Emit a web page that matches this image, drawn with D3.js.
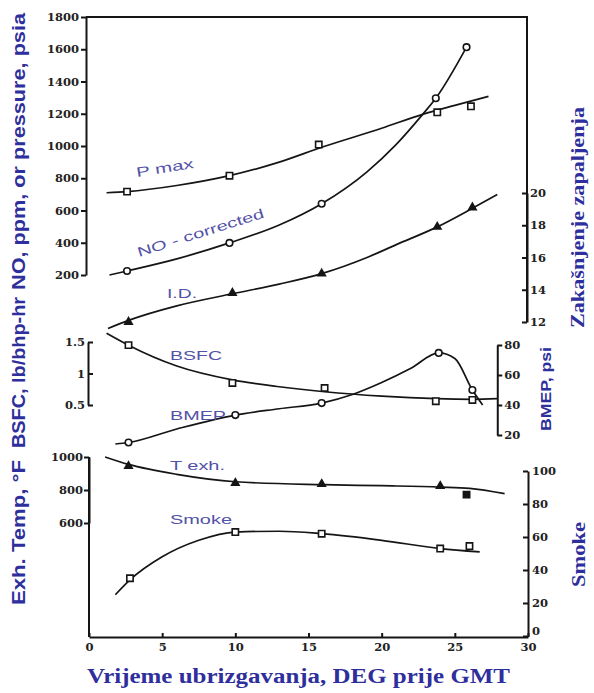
<!DOCTYPE html>
<html><head><meta charset="utf-8">
<script src="https://cdn.jsdelivr.net/npm/d3@7"></script>
<style>
body{margin:0;background:#fff}svg{display:block}
.serif{font-family:"Liberation Serif";font-weight:bold;font-style:normal}
.sans{font-family:"Liberation Sans",Arial,sans-serif;font-style:normal}
.tick text{font-family:"DejaVu Serif",serif;font-weight:bold;font-size:11.5px}
</style>
</head><body>
<svg id="c" width="594" height="693"></svg>
<script>
// ---- data ----
const xTicks = [0,5,10,15,20,25,30];
const topTicks = [200,400,600,800,1000,1200,1400,1600,1800];
const idTicks = [12,14,16,18,20];
const bsfcTicks = [0.5,1,1.5];
const bmepTicks = [20,40,60,80];
const texTicks = [600,800,1000];
const smokeTicks = [0,20,40,60,80,100];

const pmaxX = [2.6, 9.6, 15.7, 23.8, 26.1];
const pmaxY = [717, 816, 1009, 1209, 1246];
const pmaxCurveX = [1.2, 2.6, 6, 9.6, 13, 16, 20, 22.8, 25, 27.3];
const pmaxCurveY = [710, 717, 755, 816, 900, 995, 1110, 1196, 1252, 1308];

const noX = [2.6, 9.6, 15.9, 23.7, 25.8];
const noY = [225, 399, 642, 1296, 1613];
const noCurveX = [1.4, 2.6, 6, 9.6, 13, 15.9, 19, 21, 22.8, 23.7, 25.8];
const noCurveY = [200, 225, 300, 399, 510, 642, 840, 1010, 1196, 1296, 1613];

const idX = [2.7, 9.8, 15.9, 23.8, 26.2];
const idY = [12.0, 13.8, 15.0, 17.9, 19.1];
const idCurveX = [1.3, 2.7, 6, 9.8, 13, 15.9, 19, 21, 23.8, 26.2, 27.9];
const idCurveY = [11.6, 12.1, 13.0, 13.75, 14.35, 15.0, 16.0, 16.8, 17.9, 19.05, 19.9];

const bsfcX = [2.7, 9.8, 16.1, 23.7, 26.2];
const bsfcY = [1.45, 0.85, 0.77, 0.56, 0.58];
const bsfcCurveX = [1.2, 2.7, 6, 9.8, 13, 16.1, 20, 23.7, 26.2, 27.9];
const bsfcCurveY = [1.64, 1.45, 1.12, 0.9, 0.79, 0.71, 0.64, 0.6, 0.59, 0.6];

const bmepX = [2.7, 10, 15.9, 23.9, 26.2];
const bmepY = [15, 33.3, 41.3, 74.7, 50];
const bmepCurveX = [1.8, 2.7, 6, 10, 13, 15.9, 18, 20, 22, 23.9, 25, 26.2, 26.9];
const bmepCurveY = [14, 15, 24, 33.3, 37.5, 41.3, 47, 55, 64.5, 74.7, 71, 50, 40];

const texX = [2.7, 10, 15.9, 24];
const texY = [945, 842, 836, 824];
const texSqX = [25.8];
const texSqY = [772];
const texCurveX = [1.1, 2.7, 6, 10, 16, 20, 24, 26, 28.4];
const texCurveY = [1000, 955, 895, 850, 832, 826, 818, 810, 778];

const smokeX = [2.8, 10, 15.9, 24, 26];
const smokeY = [35, 63, 62, 53, 54.5];
const smokeCurveX = [1.8, 2.8, 5, 7.5, 10, 13, 15.9, 20, 24, 26.7];
const smokeCurveY = [25, 34, 48, 58, 63, 63.5, 62, 58, 53, 51];

// ---- scales ----
const svg = d3.select("#c");
const x = d3.scaleLinear().domain([0,30]).range([89,528]);
const yTop = d3.scaleLinear().domain([200,1800]).range([275,17]);
const yID = d3.scaleLinear().domain([12,20]).range([322,193]);
const yBSFC = d3.scaleLinear().domain([0.5,1.5]).range([405,342]);
const yBMEP = d3.scaleLinear().domain([20,80]).range([435,345]);
const yTex = d3.scaleLinear().domain([600,1000]).range([523,457]);
const ySmoke = d3.scaleLinear().domain([0,100]).range([636,471]);

const ink = "#151515";
const labelBlue = "#5252a8";
const titleBlue = "#2e2e9c";
const fmt = d => String(d);

function styleAxis(g){
  g.attr("font-family", null).attr("font-size", null);
  g.selectAll("path,line").attr("stroke", ink).attr("stroke-width", 2);
  g.selectAll("text").attr("fill", "#222");
}

// frame of top panel
svg.append("path").attr("d", `M${x(0)-3},${yTop(1800)}H${x(30)-1}V${yID(12)}`)
  .attr("fill","none").attr("stroke",ink).attr("stroke-width",2);

// top left axis
svg.append("g").attr("transform",`translate(${x(0)-3},0)`)
  .call(d3.axisLeft(yTop).tickValues(topTicks).tickFormat(fmt).tickSize(5).tickSizeOuter(0).tickPadding(2))
  .call(styleAxis);
// ID right axis (ticks inward)
svg.append("g").attr("transform",`translate(${x(30)-1},0)`)
  .call(d3.axisRight(yID).tickValues(idTicks).tickFormat(fmt).tickSize(-5).tickSizeOuter(0))
  .call(g=>{styleAxis(g); g.selectAll("text").attr("x",3);});
// BSFC left axis
svg.append("g").attr("transform",`translate(${x(0)-1},0)`)
  .call(d3.axisLeft(yBSFC).tickValues(bsfcTicks).tickFormat(fmt).tickSize(-5).tickSizeOuter(0))
  .call(g=>{styleAxis(g); g.selectAll("text").attr("x",-3);});
// BMEP right axis
svg.append("g").attr("transform",`translate(${x(27.9)},0)`)
  .call(d3.axisRight(yBMEP).tickValues(bmepTicks).tickFormat(fmt).tickSize(5).tickSizeOuter(0).tickPadding(2))
  .call(styleAxis);
// Exh temp left axis
svg.append("g").attr("transform",`translate(${x(0)},0)`)
  .call(d3.axisLeft(yTex).tickValues(texTicks).tickFormat(fmt).tickSize(5).tickSizeOuter(0).tickPadding(1))
  .call(styleAxis);
svg.append("line").attr("x1",x(0)).attr("x2",x(0)).attr("y1",yTex(1000)).attr("y2",637)
  .attr("stroke",ink).attr("stroke-width",2);
// Smoke right axis
svg.append("g").attr("transform",`translate(${x(30)},0)`)
  .call(d3.axisRight(ySmoke).tickValues(smokeTicks).tickFormat(fmt).tickSize(-5).tickSizeOuter(0))
  .call(g=>{
    styleAxis(g);
    g.selectAll("text").attr("x",4);
    g.selectAll(".tick").filter(d=>d===0).select("text").attr("y",-5);
  });
svg.append("line").attr("x1",x(30)).attr("x2",x(30)).attr("y1",ySmoke(0)).attr("y2",637)
  .attr("stroke",ink).attr("stroke-width",2);
// x axis
svg.append("g").attr("transform",`translate(0,637)`)
  .call(d3.axisBottom(x).tickValues(xTicks).tickFormat(fmt).tickSize(-4).tickSizeOuter(0).tickPadding(6))
  .call(styleAxis);

// ---- curves ----
const curves = [
  [pmaxCurveX, pmaxCurveY, yTop],
  [noCurveX, noCurveY, yTop],
  [idCurveX, idCurveY, yID],
  [bsfcCurveX, bsfcCurveY, yBSFC],
  [bmepCurveX, bmepCurveY, yBMEP],
  [texCurveX, texCurveY, yTex],
  [smokeCurveX, smokeCurveY, ySmoke]
];
curves.forEach(([xs, ys, sc]) => {
  const line = d3.line().x(d=>x(d[0])).y(d=>sc(d[1])).curve(d3.curveMonotoneX);
  svg.append("path").datum(xs.map((v,i)=>[v, ys[i]]))
    .attr("d", line).attr("fill","none").attr("stroke",ink).attr("stroke-width",1.7);
});

// ---- markers ----
function markers(xs, ys, sc, type, filled){
  const size = type===d3.symbolTriangle ? 24 : (type===d3.symbolSquare ? 40 : 34);
  const sym = d3.symbol().type(type).size(size);
  svg.append("g").selectAll("path").data(xs.map((v,i)=>[v, ys[i]])).join("path")
    .attr("transform", d=>`translate(${x(d[0])},${sc(d[1])})`)
    .attr("d", sym)
    .attr("fill", filled ? ink : "#fff")
    .attr("stroke", ink).attr("stroke-width", 1.6);
}
markers(pmaxX, pmaxY, yTop, d3.symbolSquare, false);
markers(noX, noY, yTop, d3.symbolCircle, false);
markers(idX, idY, yID, d3.symbolTriangle, true);
markers(bsfcX, bsfcY, yBSFC, d3.symbolSquare, false);
markers(bmepX, bmepY, yBMEP, d3.symbolCircle, false);
markers(texX, texY, yTex, d3.symbolTriangle, true);
markers(texSqX, texSqY, yTex, d3.symbolSquare, true);
markers(smokeX, smokeY, ySmoke, d3.symbolSquare, false);

// ---- series labels ----
const lab = (t, px, py, rot, len) => {
  svg.append("text").text(t).attr("class","sans")
    .attr("transform", `translate(${px},${py}) rotate(${rot})`)
    .attr("fill", labelBlue)
    .style("font-size", "13.5px")
    .attr("textLength", len).attr("lengthAdjust","spacingAndGlyphs");
};
lab("P max", 137, 177, -9, 58);
lab("NO - corrected", 139, 257, -17.5, 132);
lab("I.D.", 167, 298, 0, 30);
lab("BSFC", 170, 360, 0, 52);
lab("BMEP", 170, 420, 0, 56);
lab("T exh.", 170, 470, 0, 55);
lab("Smoke", 170, 524, 0, 62);

// ---- axis titles ----
const vtitle = (t, px, y0, y1, cls, size) => {
  const el = svg.append("text").text(t).attr("class", cls)
    .attr("transform", `translate(${px},${y0}) rotate(-90)`)
    .attr("fill", titleBlue)
    .style("font-size", size + "px")
    .attr("textLength", y0 - y1).attr("lengthAdjust","spacingAndGlyphs");
  if (cls === "sans") el.style("font-weight", "bold");
};
vtitle("Exh. Temp, °F", 25, 605, 460, "sans", 17.5);
vtitle("BSFC, lb/bhp-hr", 25, 448, 297, "sans", 17.5);
vtitle("NO, ppm, or pressure, psia", 25, 290, 13, "sans", 17.5);
vtitle("Zakašnjenje zapaljenja", 584, 328, 107, "serif", 19);
vtitle("BMEP, psi", 551, 431, 347, "sans", 15.5);
vtitle("Smoke", 585, 587, 522, "serif", 19);

svg.append("text").text("Vrijeme ubrizgavanja, DEG prije GMT").attr("class","serif")
  .attr("x", 87).attr("y", 683)
  .style("font-size", "20.5px")
  .attr("textLength", 423).attr("lengthAdjust","spacingAndGlyphs")
  .attr("fill", titleBlue);
</script>
</body></html>
